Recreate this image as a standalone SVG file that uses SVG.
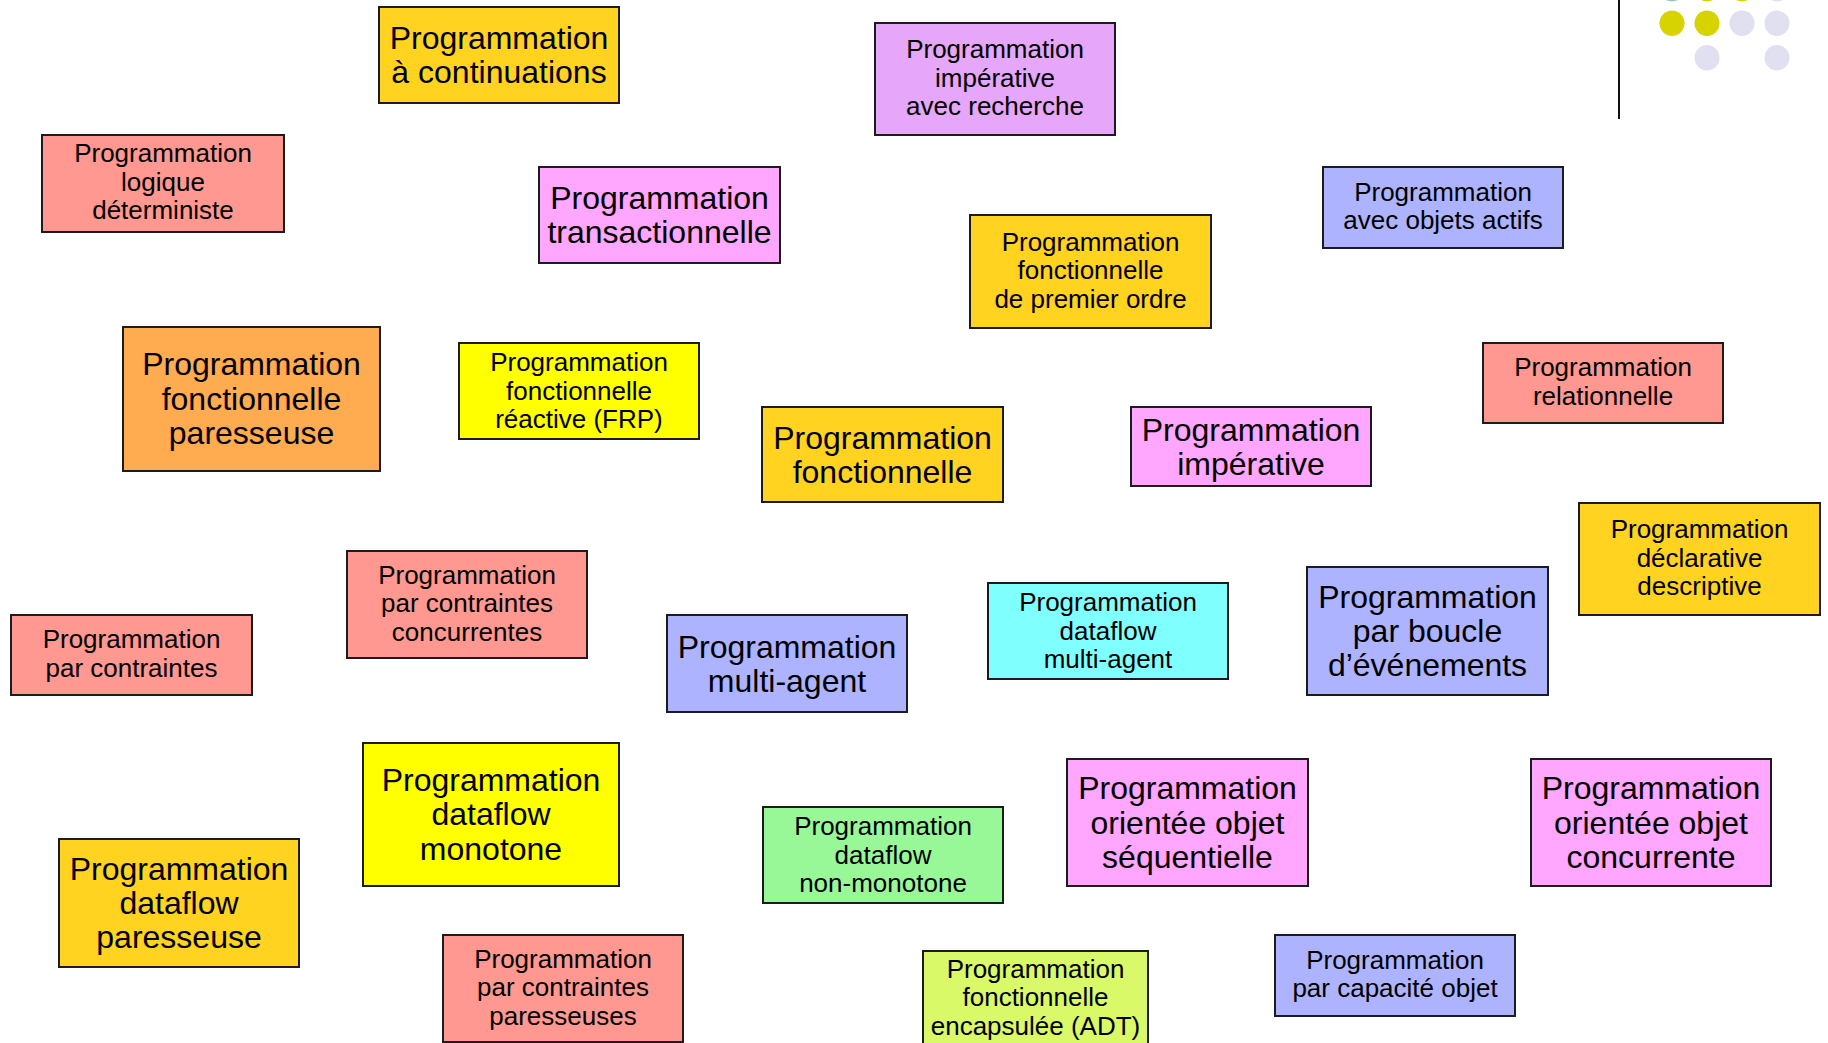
<svg xmlns="http://www.w3.org/2000/svg" width="1828" height="1043" viewBox="0 0 1828 1043">
  <style>
    .box rect { stroke: #1c1c1c; stroke-width: 2; }
    .box text { font-family: "Liberation Sans", Arial, sans-serif; fill: #000; text-anchor: middle; }
    .s text { font-size: 26px; }
    .l text { font-size: 32px; }
    .gold { fill: #FFD320; }
    .salmon { fill: #FF9891; }
    .pink { fill: #FFA6FF; }
    .violet { fill: #E6A6FA; }
    .blue { fill: #ADB3FF; }
    .orange { fill: #FFAB50; }
    .yellow { fill: #FFFF00; }
    .cyan { fill: #80FFFF; }
    .green { fill: #98F898; }
    .lime { fill: #D9F968; }
    .dot-y { fill: #D7D300; }
    .dot-l { fill: #E0E0F0; }
    .dot-t { fill: #9CC2C2; }
  </style>

  <rect x="0" y="0" width="1828" height="1043" fill="#ffffff"/>

  <!-- corner ornament -->
  <line x1="1619" y1="0" x2="1619" y2="119" stroke="#111" stroke-width="2"/>
  <g>
    <ellipse class="dot-t" cx="1672" cy="-11" rx="12.5" ry="12.5"/>
    <ellipse class="dot-y" cx="1707" cy="-11" rx="12.5" ry="12.5"/>
    <ellipse class="dot-y" cx="1742" cy="-11" rx="12.5" ry="12.5"/>
    <ellipse class="dot-l" cx="1777" cy="-11" rx="12.5" ry="12.5"/>
    <ellipse class="dot-y" cx="1672" cy="23.3" rx="12.5" ry="12.7"/>
    <ellipse class="dot-y" cx="1707" cy="23.3" rx="12.5" ry="12.7"/>
    <ellipse class="dot-l" cx="1742" cy="23.3" rx="12.5" ry="12.7"/>
    <ellipse class="dot-l" cx="1777" cy="23.3" rx="12.5" ry="12.7"/>
    <ellipse class="dot-l" cx="1707" cy="57.7" rx="12.5" ry="12.7"/>
    <ellipse class="dot-l" cx="1777" cy="57.7" rx="12.5" ry="12.7"/>
  </g>

  <g id="connectors"></g>

  <g id="n-continuations" class="box l">
    <rect class="gold" x="379" y="7" width="240" height="96"/>
    <text x="499" y="49">Programmation</text>
    <text x="499" y="83.4">à continuations</text>
  </g>

  <g id="n-imperative-recherche" class="box s">
    <rect class="violet" x="875" y="23" width="240" height="112"/>
    <text x="995" y="58">Programmation</text>
    <text x="995" y="86.6">impérative</text>
    <text x="995" y="115.2">avec recherche</text>
  </g>

  <g id="n-logique" class="box s">
    <rect class="salmon" x="42" y="135" width="242" height="97"/>
    <text x="163" y="162">Programmation</text>
    <text x="163" y="190.6">logique</text>
    <text x="163" y="219.2">déterministe</text>
  </g>

  <g id="n-transactionnelle" class="box l">
    <rect class="pink" x="539" y="167" width="241" height="96"/>
    <text x="659.5" y="209">Programmation</text>
    <text x="659.5" y="243.4">transactionnelle</text>
  </g>

  <g id="n-objets-actifs" class="box s">
    <rect class="blue" x="1323" y="167" width="240" height="81"/>
    <text x="1443" y="200.7">Programmation</text>
    <text x="1443" y="229.3">avec objets actifs</text>
  </g>

  <g id="n-premier-ordre" class="box s">
    <rect class="gold" x="970" y="215" width="241" height="113"/>
    <text x="1090.5" y="250.5">Programmation</text>
    <text x="1090.5" y="279.1">fonctionnelle</text>
    <text x="1090.5" y="307.7">de premier ordre</text>
  </g>

  <g id="n-fonctionnelle-paresseuse" class="box l">
    <rect class="orange" x="123" y="327" width="257" height="144"/>
    <text x="251.5" y="375.2">Programmation</text>
    <text x="251.5" y="409.6">fonctionnelle</text>
    <text x="251.5" y="444">paresseuse</text>
  </g>

  <g id="n-frp" class="box s">
    <rect class="yellow" x="459" y="343" width="240" height="96"/>
    <text x="579" y="371">Programmation</text>
    <text x="579" y="399.6">fonctionnelle</text>
    <text x="579" y="428.2">réactive (FRP)</text>
  </g>

  <g id="n-relationnelle" class="box s">
    <rect class="salmon" x="1483" y="343" width="240" height="80"/>
    <text x="1603" y="376.2">Programmation</text>
    <text x="1603" y="404.8">relationnelle</text>
  </g>

  <g id="n-fonctionnelle" class="box l">
    <rect class="gold" x="762" y="407" width="241" height="95"/>
    <text x="882.5" y="448.5">Programmation</text>
    <text x="882.5" y="482.9">fonctionnelle</text>
  </g>

  <g id="n-imperative" class="box l">
    <rect class="pink" x="1131" y="407" width="240" height="79"/>
    <text x="1251" y="440.5">Programmation</text>
    <text x="1251" y="474.9">impérative</text>
  </g>

  <g id="n-declarative" class="box s">
    <rect class="gold" x="1579" y="503" width="241" height="112"/>
    <text x="1699.5" y="538">Programmation</text>
    <text x="1699.5" y="566.6">déclarative</text>
    <text x="1699.5" y="595.2">descriptive</text>
  </g>

  <g id="n-contraintes-concurrentes" class="box s">
    <rect class="salmon" x="347" y="551" width="240" height="107"/>
    <text x="467" y="583.5">Programmation</text>
    <text x="467" y="612.1">par contraintes</text>
    <text x="467" y="640.7">concurrentes</text>
  </g>

  <g id="n-contraintes" class="box s">
    <rect class="salmon" x="11" y="615" width="241" height="80"/>
    <text x="131.5" y="648.2">Programmation</text>
    <text x="131.5" y="676.8">par contraintes</text>
  </g>

  <g id="n-multi-agent" class="box l">
    <rect class="blue" x="667" y="615" width="240" height="97"/>
    <text x="787" y="657.5">Programmation</text>
    <text x="787" y="691.9">multi-agent</text>
  </g>

  <g id="n-dataflow-multi-agent" class="box s">
    <rect class="cyan" x="988" y="583" width="240" height="96"/>
    <text x="1108" y="611">Programmation</text>
    <text x="1108" y="639.6">dataflow</text>
    <text x="1108" y="668.2">multi-agent</text>
  </g>

  <g id="n-boucle" class="box l">
    <rect class="blue" x="1307" y="567" width="241" height="128"/>
    <text x="1427.5" y="607.6">Programmation</text>
    <text x="1427.5" y="642">par boucle</text>
    <text x="1427.5" y="676.4">d’événements</text>
  </g>

  <g id="n-dataflow-monotone" class="box l">
    <rect class="yellow" x="363" y="743" width="256" height="143"/>
    <text x="491" y="790.7">Programmation</text>
    <text x="491" y="825.1">dataflow</text>
    <text x="491" y="859.5">monotone</text>
  </g>

  <g id="n-dataflow-paresseuse" class="box l">
    <rect class="gold" x="59" y="839" width="240" height="128"/>
    <text x="179" y="879.6">Programmation</text>
    <text x="179" y="914">dataflow</text>
    <text x="179" y="948.4">paresseuse</text>
  </g>

  <g id="n-non-monotone" class="box s">
    <rect class="green" x="763" y="807" width="240" height="96"/>
    <text x="883" y="835">Programmation</text>
    <text x="883" y="863.6">dataflow</text>
    <text x="883" y="892.2">non-monotone</text>
  </g>

  <g id="n-oo-sequentielle" class="box l">
    <rect class="pink" x="1067" y="759" width="241" height="127"/>
    <text x="1187.5" y="799.1">Programmation</text>
    <text x="1187.5" y="833.5">orientée objet</text>
    <text x="1187.5" y="867.9">séquentielle</text>
  </g>

  <g id="n-oo-concurrente" class="box l">
    <rect class="pink" x="1531" y="759" width="240" height="127"/>
    <text x="1651" y="799.1">Programmation</text>
    <text x="1651" y="833.5">orientée objet</text>
    <text x="1651" y="867.9">concurrente</text>
  </g>

  <g id="n-contraintes-paresseuses" class="box s">
    <rect class="salmon" x="443" y="935" width="240" height="107"/>
    <text x="563" y="967.5">Programmation</text>
    <text x="563" y="996.1">par contraintes</text>
    <text x="563" y="1024.7">paresseuses</text>
  </g>

  <g id="n-adt" class="box s">
    <rect class="lime" x="923" y="951" width="225" height="106"/>
    <text x="1035.5" y="977.5">Programmation</text>
    <text x="1035.5" y="1006.1">fonctionnelle</text>
    <text x="1035.5" y="1034.7">encapsulée (ADT)</text>
  </g>

  <g id="n-capacite" class="box s">
    <rect class="blue" x="1275" y="935" width="240" height="81"/>
    <text x="1395" y="968.7">Programmation</text>
    <text x="1395" y="997.3">par capacité objet</text>
  </g>
</svg>
